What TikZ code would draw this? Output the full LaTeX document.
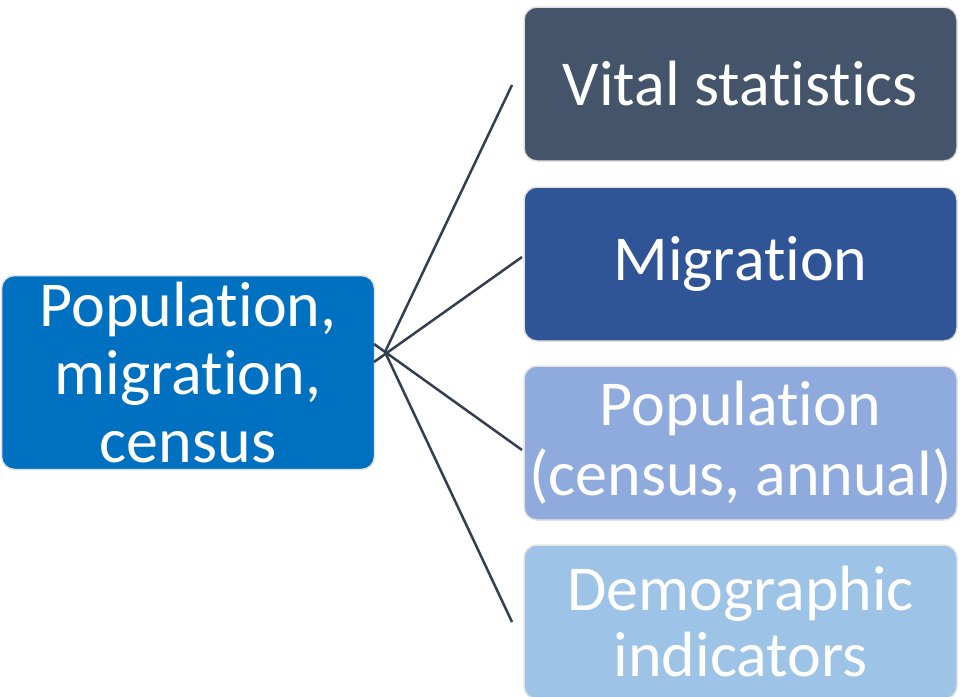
\documentclass[tikz,border=0pt]{standalone}
\usepackage{fontspec}
\setmainfont{Carlito}[RawFeature={-liga}]
\definecolor{cLeft}{HTML}{0070C0}
\definecolor{cOne}{HTML}{44546A}
\definecolor{cTwo}{HTML}{2F5597}
\definecolor{cThree}{HTML}{8FAADC}
\definecolor{cFour}{HTML}{9DC3E6}
\definecolor{cLine}{HTML}{333F50}
\definecolor{cBorder}{HTML}{E3E3E3}
\tikzset{
  boxstyle/.style={draw=cBorder, line width=1.5pt, rounded corners=13pt, text=white,
    align=center, inner sep=0pt, font=\fontsize{64}{68}\selectfont},
  leftbox/.style={boxstyle, fill=cLeft, minimum width=373pt, minimum height=194pt},
  rightbox/.style={boxstyle, minimum width=433pt, minimum height=154pt},
  link/.style={draw=cLine, line width=2.5pt}
}
\begin{document}
\begin{tikzpicture}[x=1pt,y=-1pt]
\useasboundingbox (0,0) rectangle (965,696);
\node[leftbox] (root) at (188,372.5) {Population,\\migration,\\census};
\node[rightbox, fill=cOne] (b1) at (740.5,84) {Vital statistics};
\node[rightbox, fill=cTwo] (b2) at (740.5,264) {Migration};
\node[rightbox, fill=cThree, font=\fontsize{64}{70}\selectfont] (b3) at (740.5,443) {Population\\(census, annual)};
\node[rightbox, fill=cFour, font=\fontsize{64}{66}\selectfont] (b4) at (740.5,622) {Demographic\\indicators};
\coordinate (s1) at (385,352);
\coordinate (s2) at (374,362);
\coordinate (s3) at (374,344);
\coordinate (s4) at (385,352);
\coordinate (e1) at (512,85);
\coordinate (e2) at (522,257);
\coordinate (e3) at (522,450);
\coordinate (e4) at (512,622);
\draw[link] (s1) -- (e1);
\draw[link] (s2) -- (e2);
\draw[link] (s3) -- (e3);
\draw[link] (s4) -- (e4);
\end{tikzpicture}
\end{document}
